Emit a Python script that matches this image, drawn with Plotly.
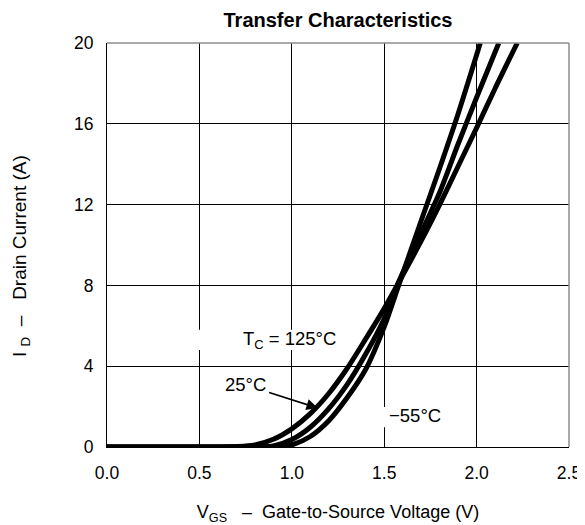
import plotly.graph_objects as go

# ---- data ----
v_125 = [0.0, 0.60, 0.70, 0.80, 0.90, 1.00, 1.10, 1.20, 1.30, 1.40, 1.50, 1.57, 1.70, 1.80, 1.90, 2.00, 2.10, 2.22]
i_125 = [0.0, 0.0, 0.02, 0.10, 0.38, 0.90, 1.65, 2.65, 3.90, 5.35, 6.85, 8.0, 10.2, 12.0, 13.9, 15.8, 17.75, 20.0]

v_25 = [0.0, 0.75, 0.85, 0.90, 1.00, 1.10, 1.20, 1.30, 1.40, 1.50, 1.57, 1.70, 1.80, 1.90, 2.00, 2.12]
i_25 = [0.0, 0.0, 0.01, 0.05, 0.37, 0.98, 1.90, 3.10, 4.60, 6.35, 8.0, 10.6, 12.6, 15.0, 17.3, 20.0]

v_m55 = [0.0, 0.85, 0.95, 1.00, 1.10, 1.20, 1.30, 1.40, 1.50, 1.578, 1.70, 1.80, 1.90, 2.02]
i_m55 = [0.0, 0.0, 0.02, 0.10, 0.52, 1.30, 2.45, 3.85, 5.95, 8.0, 11.2, 13.8, 16.5, 20.0]

x_ticks = [0.0, 0.5, 1.0, 1.5, 2.0, 2.5]
x_tick_labels = ["0.0", "0.5", "1.0", "1.5", "2.0", "2.5"]
y_ticks = [0, 4, 8, 12, 16, 20]
y_tick_labels = ["0", "4", "8", "12", "16", "20"]

FONT = "Liberation Sans, Arial, Helvetica, sans-serif"
NB = "\u00a0"

# page body adds an 8px margin, so the figure is sized/placed to compensate
W, H = 577, 517
ML, MR, MT, MB = 99, 16, 35, 78
PW, PH = W - ML - MR, H - MT - MB

fig = go.Figure()
for vx, iy in [(v_125, i_125), (v_25, i_25), (v_m55, i_m55)]:
    fig.add_trace(go.Scatter(
        x=vx, y=iy, mode="lines",
        line=dict(color="black", width=5, shape="spline", smoothing=0.8),
        showlegend=False, hoverinfo="skip",
    ))

# white boxes behind labels (hiding grid lines as in the reference)
fig.add_shape(type="rect", xref="x", yref="y", x0=0.46, x1=1.30, y0=4.8, y1=5.8,
              fillcolor="white", line=dict(width=0), layer="between")
fig.add_shape(type="rect", xref="x", yref="y", x0=1.48, x1=1.84, y0=0.98, y1=1.98,
              fillcolor="white", line=dict(width=0), layer="between")

# gray top / right frame
fig.add_shape(type="line", xref="paper", yref="paper", x0=0, x1=1, y0=1, y1=1,
              line=dict(color="#8c8c8c", width=1.5), layer="above")
fig.add_shape(type="line", xref="paper", yref="paper", x0=1, x1=1, y0=0, y1=1,
              line=dict(color="#8c8c8c", width=1.5), layer="above")

ann_font = dict(family=FONT, size=18.5, color="black")
fig.add_annotation(x=0.99, y=5.3, xref="x", yref="y", text="T<sub>C</sub> = 125°C",
                   showarrow=False, font=ann_font)
fig.add_annotation(x=1.14, y=1.93, xref="x", yref="y", ax=0.748, ay=3.07,
                   axref="x", ayref="y", text="25°C", font=ann_font, showarrow=True,
                   arrowhead=2, arrowsize=1.4, arrowwidth=1.6, arrowcolor="black",
                   standoff=0, startstandoff=2)
fig.add_annotation(x=1.666, y=1.58, xref="x", yref="y", text="\u221255°C",
                   showarrow=False, font=ann_font)

# y-axis title (placed as in the reference, slightly below the axis centre)
fig.add_annotation(xref="paper", yref="paper",
                   x=(13 - ML) / PW, y=1 - (248 - MT) / PH,
                   xanchor="center", yanchor="middle", textangle=-90, showarrow=False,
                   text="I" + NB + "<sub>D</sub>" + NB * 2 + "\u2013" + NB * 3 + "Drain Current (A)",
                   font=dict(family=FONT, size=19, color="black"))

fig.update_layout(
    width=W, height=H,
    margin=dict(l=ML, r=MR, t=MT, b=MB, pad=0),
    paper_bgcolor="white", plot_bgcolor="white",
    font=dict(family=FONT, size=17.5, color="black"),
    title=dict(text="<b>Transfer Characteristics</b>", x=0.5, xref="paper",
               y=1 - 12 / H, yanchor="middle", xanchor="center",
               font=dict(family=FONT, size=20, color="black")),
    xaxis=dict(range=[0, 2.5], tickvals=x_ticks, ticktext=x_tick_labels,
               showgrid=True, gridcolor="black", gridwidth=1.2,
               showline=True, linecolor="black", linewidth=1.2,
               ticks="", ticklabelstandoff=10, zeroline=False, automargin=False,
               tickfont=dict(family=FONT, size=17.5),
               title=dict(text="V<sub>GS</sub>" + NB * 3 + "\u2013" + NB * 2 + "Gate-to-Source Voltage (V)",
                          standoff=23, font=dict(family=FONT, size=18))),
    yaxis=dict(range=[0, 20], tickvals=y_ticks, ticktext=y_tick_labels,
               showgrid=True, gridcolor="black", gridwidth=1.2,
               showline=True, linecolor="black", linewidth=1.2,
               ticks="", ticklabelstandoff=9, zeroline=False, automargin=False,
               tickfont=dict(family=FONT, size=17.5)),
)

fig.write_html("out.html")
